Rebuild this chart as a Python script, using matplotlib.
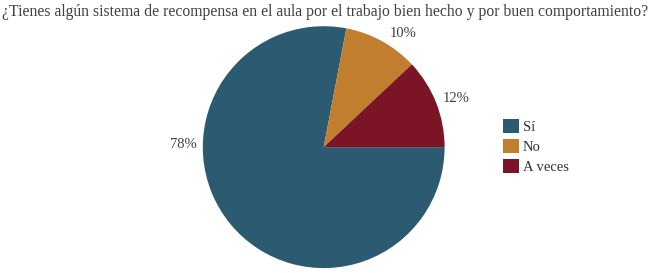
import matplotlib.pyplot as plt
import numpy as np
from matplotlib.patches import Patch

categorias = ['Sí', 'No', 'A veces']
porcentajes = [78, 10, 12]
colores = ['#2c5a70', '#c07e2e', '#7b1526']

# posicion de las etiquetas (angulo en grados, distancia relativa al radio)
ang_etiquetas = [179, 55, 20]
dist_etiquetas = [1.16, 1.15, 1.17]

plt.rcParams['font.family'] = ['Liberation Serif', 'DejaVu Serif']

fig = plt.figure(figsize=(6.5, 2.73), dpi=100)
ax = fig.add_axes([0.312, 0.018, 0.372, 0.886])

ax.pie(porcentajes, colors=colores, startangle=0, counterclock=False,
       wedgeprops=dict(linewidth=0))
ax.set_xlim(-1, 1)
ax.set_ylim(-1, 1)
ax.set_aspect('auto')

for p, a, d in zip(porcentajes, ang_etiquetas, dist_etiquetas):
    r = np.deg2rad(a)
    ax.text(d * np.cos(r), d * np.sin(r), f'{p}%', ha='center', va='center',
            fontsize=10.5, color='#404040')

fig.text(0.5, 0.955, '¿Tienes algún sistema de recompensa en el aula por el trabajo bien hecho y por buen comportamiento?',
         ha='center', va='center', fontsize=11.3, color='#404040')

handles = [Patch(facecolor=c, edgecolor='none') for c in colores]
fig.legend(handles, categorias, loc='upper left', bbox_to_anchor=(0.762, 0.592),
           frameon=False, fontsize=10.5, handlelength=1.1, handleheight=1.1,
           handletextpad=0.3, labelspacing=0.35, borderpad=0, labelcolor='#303030')

fig.savefig('out.png', dpi=100)
